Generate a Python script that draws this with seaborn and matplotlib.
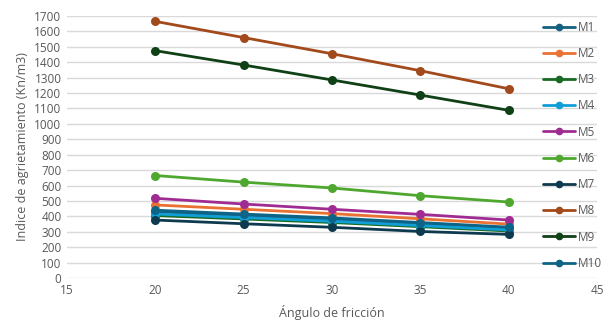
import matplotlib
matplotlib.use("Agg")
import matplotlib.pyplot as plt
import seaborn as sns
import pandas as pd

angles = [20, 25, 30, 35, 40]
series_names = ["M1", "M2", "M3", "M4", "M5", "M6", "M7", "M8", "M9", "M10"]
m1 = [430, 405, 380, 350, 320]
m2 = [474, 446, 418, 384, 350]
m3 = [405, 383, 360, 333, 305]
m4 = [415, 392, 368, 340, 312]
m5 = [517, 480, 446, 413, 376]
m6 = [665, 622, 584, 534, 493]
m7 = [376, 352, 329, 302, 283]
m8 = [1665, 1560, 1455, 1345, 1228]
m9 = [1475, 1382, 1285, 1187, 1088]
m10 = [440, 415, 390, 360, 330]
values = [m1, m2, m3, m4, m5, m6, m7, m8, m9, m10]
colors = ["#156082", "#E97132", "#196B24", "#0F9ED5", "#A02B93",
          "#4EA72E", "#0D3A4E", "#A24A1C", "#0F4016", "#0E6487"]
x_ticks = [15, 20, 25, 30, 35, 40, 45]
y_ticks = list(range(0, 1800, 100))

rows = []
for name, vals in zip(series_names, values):
    for a, v in zip(angles, vals):
        rows.append({"Ángulo": a, "Valor": v, "Serie": name})
df = pd.DataFrame(rows)

sns.set_style("white")
plt.rcParams['font.family'] = ['Open Sans', 'DejaVu Sans']

fig = plt.figure(figsize=(6.06, 3.27), dpi=100)
ax = fig.add_axes([67/606, 1-278/327, (597-67)/606, (278-16)/327])

sns.lineplot(data=df, x="Ángulo", y="Valor", hue="Serie", hue_order=series_names,
             palette=colors, marker="o", markersize=6.5, markeredgewidth=0,
             linewidth=2, ax=ax, legend=True, zorder=3)

ax.set_xlim(15, 45)
ax.set_ylim(0, 1700)
ax.set_xticks(x_ticks)
ax.set_yticks(y_ticks)
ax.tick_params(axis='both', labelsize=8.5, colors="#595959", length=0, pad=4)
ax.yaxis.grid(True, color="#d9d9d9", linewidth=1, zorder=0)
ax.xaxis.grid(False)
for s in ax.spines.values():
    s.set_visible(False)
ax.set_xlabel("Ángulo de fricción", fontsize=9, color="#595959", labelpad=6)
ax.set_ylabel("Indice de agrietamiento (Kn/m3)", fontsize=9, color="#595959", labelpad=4)

handles, labels = ax.get_legend_handles_labels()
for h in handles:
    h.set_markersize(5.5)
ax.legend(handles, labels, loc="upper left", bbox_to_anchor=(538/606, 1-16/327),
          bbox_transform=fig.transFigure, frameon=False, fontsize=8.5,
          labelcolor="#595959", handlelength=2.7, handletextpad=0.3,
          labelspacing=1.12, borderaxespad=0)

fig.savefig("out.png", dpi=100)
